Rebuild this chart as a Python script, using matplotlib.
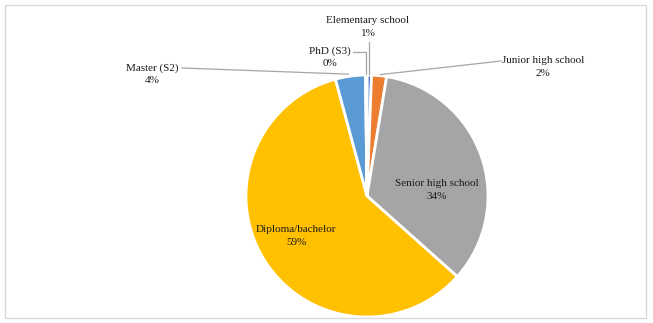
import numpy as np
import matplotlib
matplotlib.use("Agg")
import matplotlib.pyplot as plt
from matplotlib.patches import Rectangle

categories = ["Elementary school", "Junior high school", "Senior high school",
              "Diploma/bachelor", "Master (S2)", "PhD (S3)"]
values = [0.6, 2.0, 34.0, 59.2, 4.0, 0.2]
pct_labels = ["1%", "2%", "34%", "59%", "4%", "0%"]
colors = ["#4472C4", "#ED7D31", "#A5A5A5", "#FFC000", "#5B9BD5", "#70AD47"]

W, H = 653, 323
fig = plt.figure(figsize=(W / 100, H / 100), dpi=100)
ax = fig.add_axes([0, 0, 1, 1])

def py(y):
    return H - y

cx, cy, r = 367, py(196), 121
wedges, _ = ax.pie(values, colors=colors, startangle=90, counterclock=False,
                   center=(cx, cy), radius=r, frame=True,
                   wedgeprops=dict(edgecolor="white", linewidth=2))
ax.set_xlim(0, W)
ax.set_ylim(0, H)
ax.axis("off")

font = dict(family="Liberation Serif", fontsize=8, color="#1a1a1a",
            ha="center", va="center", linespacing=1.45)

# label centres (pixel coords), layout only
label_pos = {
    0: (368, 27),
    1: (543, 67),
    2: (437, 190),
    3: (296, 236),
    4: (152, 74),
    5: (330, 57),
}
for i, (x, y) in label_pos.items():
    ax.text(x, py(y), categories[i] + "\n" + pct_labels[i], **font)

def edge_point(w, frac=1.0):
    ang = np.deg2rad((w.theta1 + w.theta2) / 2)
    return cx + r * frac * np.cos(ang), cy + r * frac * np.sin(ang)

lc = dict(color="#A6A6A6", linewidth=0.9)
# Elementary
ex, ey = edge_point(wedges[0], 1.0)
ax.plot([ex, ex], [py(42), ey + 1], **lc)
# Junior
jx, jy = edge_point(wedges[1], 1.0)
ax.plot([501, jx + 1], [py(61), jy + 1], **lc)
# Master
mx, my = edge_point(wedges[4], 1.0)
ax.plot([182, mx - 2], [py(68), my + 2], **lc)
# PhD
px_, pyy = edge_point(wedges[5], 1.0)
ax.plot([353, px_, px_], [py(52), py(52), pyy + 1], **lc)

fig.patches.append(Rectangle((5 / W, 5 / H), 641 / W, 313 / H,
                             transform=fig.transFigure, fill=False,
                             edgecolor="#D9D9D9", linewidth=1))

fig.savefig("out.png", dpi=100, facecolor="white")
